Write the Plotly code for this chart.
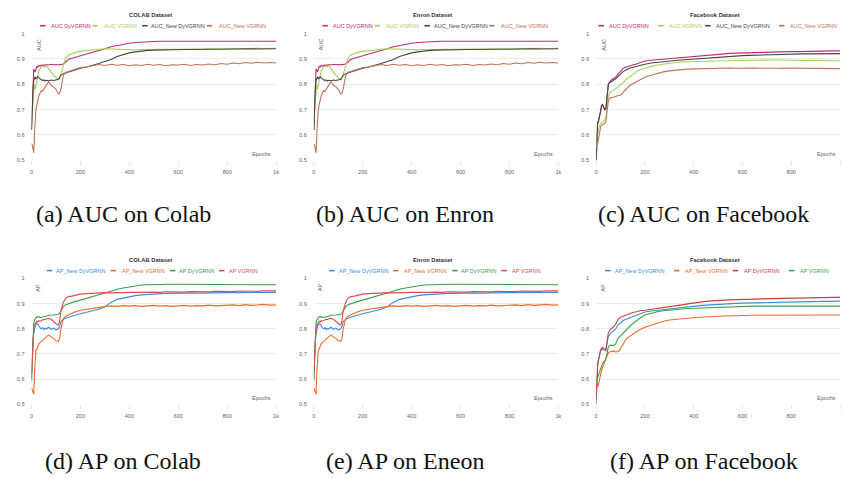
import plotly.graph_objects as go

# ---------------- data ----------------
epochs = [0, 3, 6, 9, 12, 15, 18, 22, 26, 30, 35, 40, 45, 50, 55, 60, 70, 80, 90, 100,
          110, 115, 120, 130, 140, 150, 165, 180, 200, 225, 250, 275, 300, 325, 350, 375,
          400, 425, 450, 475, 500, 525, 550, 575, 600, 625, 650, 675, 700, 725, 750, 775,
          800, 825, 850, 875, 900, 925, 950, 975, 1000]

# (a) COLAB – AUC
colab_auc_dy = [0.62, 0.72, 0.80, 0.86, 0.855, 0.848, 0.858, 0.872, 0.868, 0.874, 0.872, 0.876, 0.874, 0.877, 0.875, 0.878, 0.876, 0.879, 0.877, 0.878,
                0.876, 0.879, 0.878, 0.880, 0.888, 0.898, 0.903, 0.907, 0.912, 0.917, 0.924, 0.932, 0.940, 0.948, 0.953, 0.958,
                0.962, 0.965, 0.967, 0.968, 0.969, 0.970, 0.970, 0.971, 0.971, 0.971, 0.971, 0.971, 0.971, 0.971, 0.971, 0.971,
                0.971, 0.971, 0.970, 0.970, 0.970, 0.970, 0.970, 0.970, 0.970]
colab_auc_v = [0.66, 0.70, 0.76, 0.79, 0.80, 0.78, 0.80, 0.815, 0.83, 0.855, 0.86, 0.868, 0.87, 0.872, 0.868, 0.875, 0.862, 0.848, 0.835, 0.826,
               0.818, 0.822, 0.84, 0.865, 0.905, 0.915, 0.922, 0.926, 0.930, 0.933, 0.937, 0.938, 0.940, 0.939, 0.940, 0.938,
               0.937, 0.936, 0.937, 0.936, 0.937, 0.938, 0.937, 0.938, 0.938, 0.939, 0.938, 0.939, 0.939, 0.940, 0.939, 0.940,
               0.940, 0.941, 0.940, 0.941, 0.941, 0.942, 0.941, 0.942, 0.942]
colab_auc_new_dy = [0.62, 0.72, 0.78, 0.815, 0.825, 0.83, 0.822, 0.828, 0.83, 0.825, 0.82, 0.818, 0.815, 0.817, 0.813, 0.816, 0.814, 0.817, 0.815, 0.816,
                    0.82, 0.828, 0.835, 0.842, 0.845, 0.85, 0.855, 0.858, 0.863, 0.868, 0.874, 0.882, 0.89, 0.898, 0.91, 0.918,
                    0.924, 0.928, 0.932, 0.934, 0.935, 0.936, 0.935, 0.937, 0.936, 0.937, 0.937, 0.938, 0.937, 0.938, 0.938, 0.938,
                    0.939, 0.938, 0.939, 0.939, 0.940, 0.939, 0.940, 0.940, 0.940]
colab_auc_new_v = [0.565, 0.56, 0.545, 0.53, 0.60, 0.66, 0.70, 0.72, 0.745, 0.755, 0.765, 0.775, 0.772, 0.78, 0.79, 0.795, 0.81, 0.796, 0.79, 0.78,
                   0.762, 0.765, 0.78, 0.835, 0.848, 0.85, 0.855, 0.86, 0.866, 0.868, 0.872, 0.878, 0.874, 0.879, 0.875, 0.878,
                   0.873, 0.877, 0.874, 0.879, 0.875, 0.878, 0.873, 0.877, 0.876, 0.879, 0.874, 0.878, 0.876, 0.880, 0.877, 0.882,
                   0.879, 0.884, 0.881, 0.886, 0.883, 0.887, 0.884, 0.886, 0.884]

# (b) Enron – AUC (curves in the picture are the same as COLAB)
enron_auc_dy = list(colab_auc_dy)
enron_auc_v = list(colab_auc_v)
enron_auc_new_dy = list(colab_auc_new_dy)
enron_auc_new_v = list(colab_auc_new_v)

# (c) Facebook – AUC
fb_auc_dy = [0.50, 0.62, 0.645, 0.65, 0.66, 0.675, 0.69, 0.712, 0.72, 0.71, 0.70, 0.70, 0.75, 0.80, 0.808, 0.815, 0.822, 0.828, 0.84, 0.852,
             0.862, 0.865, 0.867, 0.870, 0.873, 0.876, 0.880, 0.885, 0.892, 0.895, 0.897, 0.899, 0.902, 0.905, 0.908, 0.910,
             0.912, 0.914, 0.916, 0.918, 0.920, 0.921, 0.922, 0.923, 0.924, 0.925, 0.925, 0.926, 0.926, 0.927, 0.928, 0.928,
             0.929, 0.929, 0.930, 0.930, 0.931, 0.931, 0.932, 0.932, 0.932]
fb_auc_v = [0.55, 0.59, 0.60, 0.62, 0.632, 0.64, 0.645, 0.648, 0.65, 0.655, 0.66, 0.668, 0.715, 0.752, 0.765, 0.77, 0.775, 0.782, 0.79, 0.798,
            0.805, 0.81, 0.817, 0.825, 0.832, 0.84, 0.85, 0.857, 0.864, 0.87, 0.876, 0.88, 0.884, 0.886, 0.888, 0.889,
            0.890, 0.891, 0.891, 0.892, 0.892, 0.893, 0.893, 0.894, 0.894, 0.895, 0.895, 0.896, 0.896, 0.896, 0.896, 0.895,
            0.895, 0.895, 0.894, 0.894, 0.894, 0.894, 0.893, 0.893, 0.893]
fb_auc_new_dy = [0.49, 0.63, 0.65, 0.655, 0.665, 0.68, 0.695, 0.715, 0.72, 0.712, 0.70, 0.705, 0.755, 0.80, 0.806, 0.81, 0.815, 0.822, 0.83, 0.84,
                 0.85, 0.853, 0.856, 0.86, 0.864, 0.867, 0.871, 0.875, 0.879, 0.884, 0.887, 0.889, 0.892, 0.894, 0.896, 0.898,
                 0.900, 0.902, 0.904, 0.906, 0.908, 0.909, 0.911, 0.912, 0.913, 0.914, 0.915, 0.916, 0.917, 0.917, 0.918, 0.918,
                 0.919, 0.919, 0.920, 0.920, 0.920, 0.921, 0.921, 0.921, 0.921]
fb_auc_new_v = [0.55, 0.57, 0.565, 0.585, 0.60, 0.615, 0.63, 0.638, 0.64, 0.642, 0.645, 0.655, 0.70, 0.735, 0.745, 0.746, 0.748, 0.752, 0.756, 0.757,
                0.768, 0.773, 0.778, 0.79, 0.797, 0.802, 0.81, 0.818, 0.828, 0.836, 0.843, 0.849, 0.853, 0.856, 0.858, 0.860,
                0.861, 0.862, 0.862, 0.863, 0.863, 0.863, 0.864, 0.863, 0.864, 0.864, 0.864, 0.863, 0.864, 0.864, 0.863, 0.864,
                0.864, 0.863, 0.863, 0.863, 0.862, 0.863, 0.862, 0.862, 0.862]

# (d) COLAB – AP
colab_ap_new_dy = [0.60, 0.72, 0.76, 0.78, 0.80, 0.81, 0.815, 0.822, 0.818, 0.81, 0.805, 0.80, 0.805, 0.797, 0.802, 0.799, 0.806, 0.798, 0.803, 0.796,
                   0.80, 0.81, 0.828, 0.838, 0.843, 0.846, 0.85, 0.855, 0.86, 0.866, 0.872, 0.878, 0.888, 0.905, 0.917, 0.923,
                   0.928, 0.932, 0.935, 0.937, 0.939, 0.940, 0.941, 0.941, 0.942, 0.942, 0.943, 0.942, 0.943, 0.943, 0.944, 0.943,
                   0.944, 0.944, 0.944, 0.945, 0.944, 0.945, 0.945, 0.944, 0.945]
colab_ap_new_v = [0.565, 0.555, 0.545, 0.54, 0.62, 0.70, 0.715, 0.72, 0.735, 0.74, 0.745, 0.75, 0.757, 0.76, 0.763, 0.768, 0.775, 0.77, 0.762, 0.752,
                  0.75, 0.76, 0.80, 0.84, 0.85, 0.855, 0.862, 0.868, 0.874, 0.878, 0.882, 0.886, 0.888, 0.891, 0.889, 0.892,
                  0.890, 0.892, 0.889, 0.891, 0.893, 0.890, 0.892, 0.889, 0.891, 0.893, 0.890, 0.892, 0.891, 0.894, 0.891, 0.893,
                  0.892, 0.895, 0.892, 0.896, 0.893, 0.895, 0.897, 0.894, 0.895]
colab_ap_dy = [0.59, 0.70, 0.78, 0.82, 0.835, 0.84, 0.845, 0.848, 0.846, 0.848, 0.845, 0.846, 0.848, 0.846, 0.849, 0.85, 0.854, 0.856, 0.855, 0.857,
               0.858, 0.862, 0.872, 0.888, 0.896, 0.90, 0.905, 0.909, 0.914, 0.92, 0.927, 0.935, 0.942, 0.95, 0.957, 0.962,
               0.967, 0.971, 0.974, 0.975, 0.976, 0.977, 0.977, 0.977, 0.977, 0.977, 0.977, 0.977, 0.977, 0.977, 0.977, 0.976,
               0.976, 0.976, 0.976, 0.976, 0.976, 0.976, 0.975, 0.975, 0.975]
colab_ap_v = [0.62, 0.70, 0.76, 0.80, 0.815, 0.82, 0.825, 0.83, 0.828, 0.832, 0.83, 0.833, 0.835, 0.838, 0.836, 0.84, 0.842, 0.838, 0.83, 0.82,
              0.815, 0.83, 0.87, 0.905, 0.922, 0.928, 0.93, 0.934, 0.938, 0.94, 0.942, 0.943, 0.944, 0.943, 0.945, 0.944,
              0.945, 0.944, 0.946, 0.945, 0.946, 0.945, 0.947, 0.946, 0.947, 0.946, 0.948, 0.947, 0.948, 0.947, 0.949, 0.948,
              0.949, 0.948, 0.950, 0.949, 0.950, 0.949, 0.951, 0.950, 0.951]

# (e) Enron – AP (same curves as COLAB in the picture)
enron_ap_new_dy = list(colab_ap_new_dy)
enron_ap_new_v = list(colab_ap_new_v)
enron_ap_dy = list(colab_ap_dy)
enron_ap_v = list(colab_ap_v)

# (f) Facebook – AP
fb_ap_new_dy = [0.50, 0.64, 0.655, 0.67, 0.685, 0.70, 0.712, 0.718, 0.72, 0.718, 0.715, 0.712, 0.745, 0.77, 0.776, 0.785, 0.79, 0.80, 0.815, 0.825,
                0.832, 0.835, 0.837, 0.84, 0.843, 0.848, 0.855, 0.862, 0.867, 0.871, 0.874, 0.877, 0.879, 0.882, 0.885, 0.888,
                0.890, 0.892, 0.894, 0.896, 0.898, 0.899, 0.900, 0.901, 0.902, 0.903, 0.903, 0.904, 0.904, 0.905, 0.905, 0.906,
                0.906, 0.907, 0.907, 0.908, 0.908, 0.909, 0.909, 0.910, 0.910]
fb_ap_new_v = [0.59, 0.58, 0.57, 0.575, 0.59, 0.61, 0.625, 0.635, 0.645, 0.655, 0.665, 0.68, 0.69, 0.705, 0.708, 0.71, 0.712, 0.708, 0.71, 0.72,
               0.738, 0.748, 0.755, 0.765, 0.772, 0.778, 0.787, 0.797, 0.806, 0.815, 0.823, 0.83, 0.835, 0.838, 0.84, 0.842,
               0.844, 0.846, 0.848, 0.849, 0.850, 0.851, 0.852, 0.852, 0.853, 0.853, 0.854, 0.854, 0.854, 0.855, 0.855, 0.856,
               0.856, 0.856, 0.856, 0.856, 0.856, 0.855, 0.855, 0.855, 0.855]
fb_ap_dy = [0.52, 0.64, 0.66, 0.675, 0.69, 0.70, 0.715, 0.722, 0.726, 0.722, 0.72, 0.718, 0.75, 0.785, 0.792, 0.80, 0.806, 0.818, 0.838, 0.846,
            0.85, 0.852, 0.855, 0.858, 0.861, 0.865, 0.868, 0.872, 0.874, 0.877, 0.88, 0.883, 0.886, 0.89, 0.895, 0.899,
            0.903, 0.906, 0.909, 0.911, 0.913, 0.914, 0.915, 0.916, 0.917, 0.918, 0.918, 0.919, 0.920, 0.920, 0.921, 0.921,
            0.922, 0.922, 0.923, 0.923, 0.924, 0.924, 0.924, 0.925, 0.925]
fb_ap_v = [0.58, 0.60, 0.605, 0.615, 0.625, 0.635, 0.645, 0.655, 0.662, 0.668, 0.672, 0.68, 0.71, 0.728, 0.733, 0.735, 0.733, 0.74, 0.762, 0.772,
           0.785, 0.79, 0.795, 0.805, 0.812, 0.82, 0.832, 0.843, 0.855, 0.862, 0.868, 0.872, 0.875, 0.877, 0.879, 0.881,
           0.882, 0.883, 0.884, 0.885, 0.886, 0.887, 0.888, 0.888, 0.889, 0.889, 0.890, 0.890, 0.890, 0.890, 0.890, 0.890,
           0.890, 0.890, 0.890, 0.890, 0.890, 0.890, 0.890, 0.890, 0.890]

titles = ["COLAB Dataset", "Enron Dataset", "Facebook Dataset",
          "COLAB Dataset", "Enron Dataset", "Facebook Dataset"]
y_titles = ["AUC", "AUC", "AUC", "AP", "AP", "AP"]
captions = ["(a) AUC on Colab", "(b) AUC on Enron", "(c) AUC on Facebook",
            "(d) AP on Colab", "(e) AP on Eneon", "(f) AP on Facebook"]
auc_names = ["AUC DyVGRNN", "AUC VGRNN", "AUC_New DyVGRNN", "AUC_New VGRNN"]
ap_names = ["AP_New DyVGRNN", "AP_New VGRNN", "AP DyVGRNN", "AP VGRNN"]

panel_series = [
    [colab_auc_dy, colab_auc_v, colab_auc_new_dy, colab_auc_new_v],
    [enron_auc_dy, enron_auc_v, enron_auc_new_dy, enron_auc_new_v],
    [fb_auc_dy, fb_auc_v, fb_auc_new_dy, fb_auc_new_v],
    [colab_ap_new_dy, colab_ap_new_v, colab_ap_dy, colab_ap_v],
    [enron_ap_new_dy, enron_ap_new_v, enron_ap_dy, enron_ap_v],
    [fb_ap_new_dy, fb_ap_new_v, fb_ap_dy, fb_ap_v],
]
panel_names = [auc_names, auc_names, auc_names, ap_names, ap_names, ap_names]

# ---------------- style ----------------
W, H = 843, 479
AUC_COLORS = ["#c42a73", "#a3d45a", "#474747", "#bd7458"]
AP_COLORS_CF = ["#3b8fdd", "#ee6a2a", "#3a9d4f", "#e24a4e"]
AP_COLORS_FB = ["#3b8fdd", "#ee6a2a", "#cc3f3f", "#3fa34a"]
panel_colors = [AUC_COLORS, AUC_COLORS, AUC_COLORS, AP_COLORS_CF, AP_COLORS_CF, AP_COLORS_FB]

SANS = "Liberation Sans, Arial, sans-serif"
SERIF = "Liberation Serif, DejaVu Serif, serif"
GRID = "#ececec"
LABEL = "#666666"

col_left = [29.7, 313.7, 597.7]
plot_w = 246.0
row_top = [31.0, 279.0]     # y px of value 1.0
row_bot = [159.3, 406.3]    # y px of value 0.5
legend_y = [23.0, 271.0]
title_y = [12.3, 260.0]
caption_y = [214.0, 464.0]
caption_x = [122.0, 405.0, 706.0]

# legend layout (symbol start, text start) relative to panel offset (col*284)
legend_pos = [
    ([38.3, 91.0, 141.0, 206.0], [47.3, 100.7, 148.3, 216.0]),
    ([38.3, 91.0, 141.0, 206.0], [47.3, 100.7, 148.3, 216.0]),
    ([32.0, 92.0, 139.3, 213.7], [40.3, 101.0, 148.7, 222.7]),
    ([45.0, 109.3, 169.0, 218.3], [52.7, 118.3, 175.7, 226.7]),
    ([45.0, 109.3, 169.0, 218.3], [52.7, 118.3, 175.7, 226.7]),
    ([38.7, 108.0, 167.0, 223.7], [47.0, 117.0, 176.0, 232.7]),
]


def px(x):
    return x / W


def py(y):
    return 1 - y / H


fig = go.Figure()
annotations = []
shapes = []
layout = {}

for i in range(6):
    row, col = divmod(i, 3)
    ax = "" if i == 0 else str(i + 1)
    xname, yname = "x" + ax, "y" + ax
    left = col_left[col]
    right = min(left + plot_w, W)
    for s, (vals, name, color) in enumerate(zip(panel_series[i], panel_names[i], panel_colors[i])):
        fig.add_trace(go.Scatter(x=epochs, y=vals, mode="lines", name=name,
                                 line=dict(color=color, width=1.1),
                                 xaxis=xname, yaxis=yname, showlegend=False,
                                 hoverinfo="skip"))
    layout["xaxis" + ax] = dict(
        domain=[px(left), px(right)], range=[0, 1000], anchor=yname,
        dtick=200, tick0=0, tickformat="~s", showgrid=False, zeroline=False,
        showline=False, ticks="outside", ticklen=4, tickcolor="#e6e6e6",
        ticklabelstandoff=2,
        tickfont=dict(family=SANS, size=5.6, color=LABEL), fixedrange=True)
    layout["yaxis" + ax] = dict(
        domain=[py(row_bot[row]), py(row_top[row])], range=[0.5, 1.0], anchor=xname,
        dtick=0.1, tick0=0.5, showgrid=True, gridcolor=GRID, gridwidth=1,
        zeroline=False, showline=False, ticks="", ticklabelstandoff=6,
        tickfont=dict(family=SANS, size=5.6, color=LABEL), fixedrange=True)

    off = col * 284.0
    # title
    annotations.append(dict(text="<b>" + titles[i] + "</b>", x=px(off + 149), y=py(title_y[row]),
                            xref="paper", yref="paper", showarrow=False,
                            xanchor="center", yanchor="middle",
                            font=dict(family=SANS, size=5.8, color="#333333")))
    # legend
    sym, txt = legend_pos[i]
    for k in range(4):
        c = panel_colors[i][k]
        shapes.append(dict(type="line", xref="paper", yref="paper",
                           x0=px(off + sym[k]), x1=px(off + sym[k] + 5.5),
                           y0=py(legend_y[row]), y1=py(legend_y[row]),
                           line=dict(color=c, width=1.6)))
        annotations.append(dict(text=panel_names[i][k], x=px(off + txt[k]), y=py(legend_y[row]),
                                xref="paper", yref="paper", showarrow=False,
                                xanchor="left", yanchor="middle",
                                font=dict(family=SANS, size=5.5, color=c)))
    # y title (inside plot)
    annotations.append(dict(text=y_titles[i], x=px(left + 7), y=py(row_top[row] + 3),
                            xref="paper", yref="paper", showarrow=False, textangle=-90,
                            xanchor="center", yanchor="top",
                            font=dict(family=SANS, size=5.6, color=LABEL)))
    # x title
    annotations.append(dict(text="Epochs", x=px(left + 243), y=py(row_bot[row] - 6),
                            xref="paper", yref="paper", showarrow=False,
                            xanchor="right", yanchor="middle",
                            font=dict(family=SANS, size=5.6, color=LABEL)))
    # caption
    annotations.append(dict(text=captions[i], x=px(caption_x[col]), y=py(caption_y[row]),
                            xref="paper", yref="paper", showarrow=False,
                            xanchor="center", yanchor="middle",
                            font=dict(family=SERIF, size=24, color="#111111")))

fig.update_layout(
    width=W, height=H, margin=dict(l=0, r=0, t=0, b=0),
    paper_bgcolor="white", plot_bgcolor="white",
    showlegend=False, annotations=annotations, shapes=shapes, **layout)

fig.write_html("out.html",
               config={"displayModeBar": False, "staticPlot": True},
               post_script="document.body.style.margin='0';"
                           "document.body.style.overflow='hidden';")
